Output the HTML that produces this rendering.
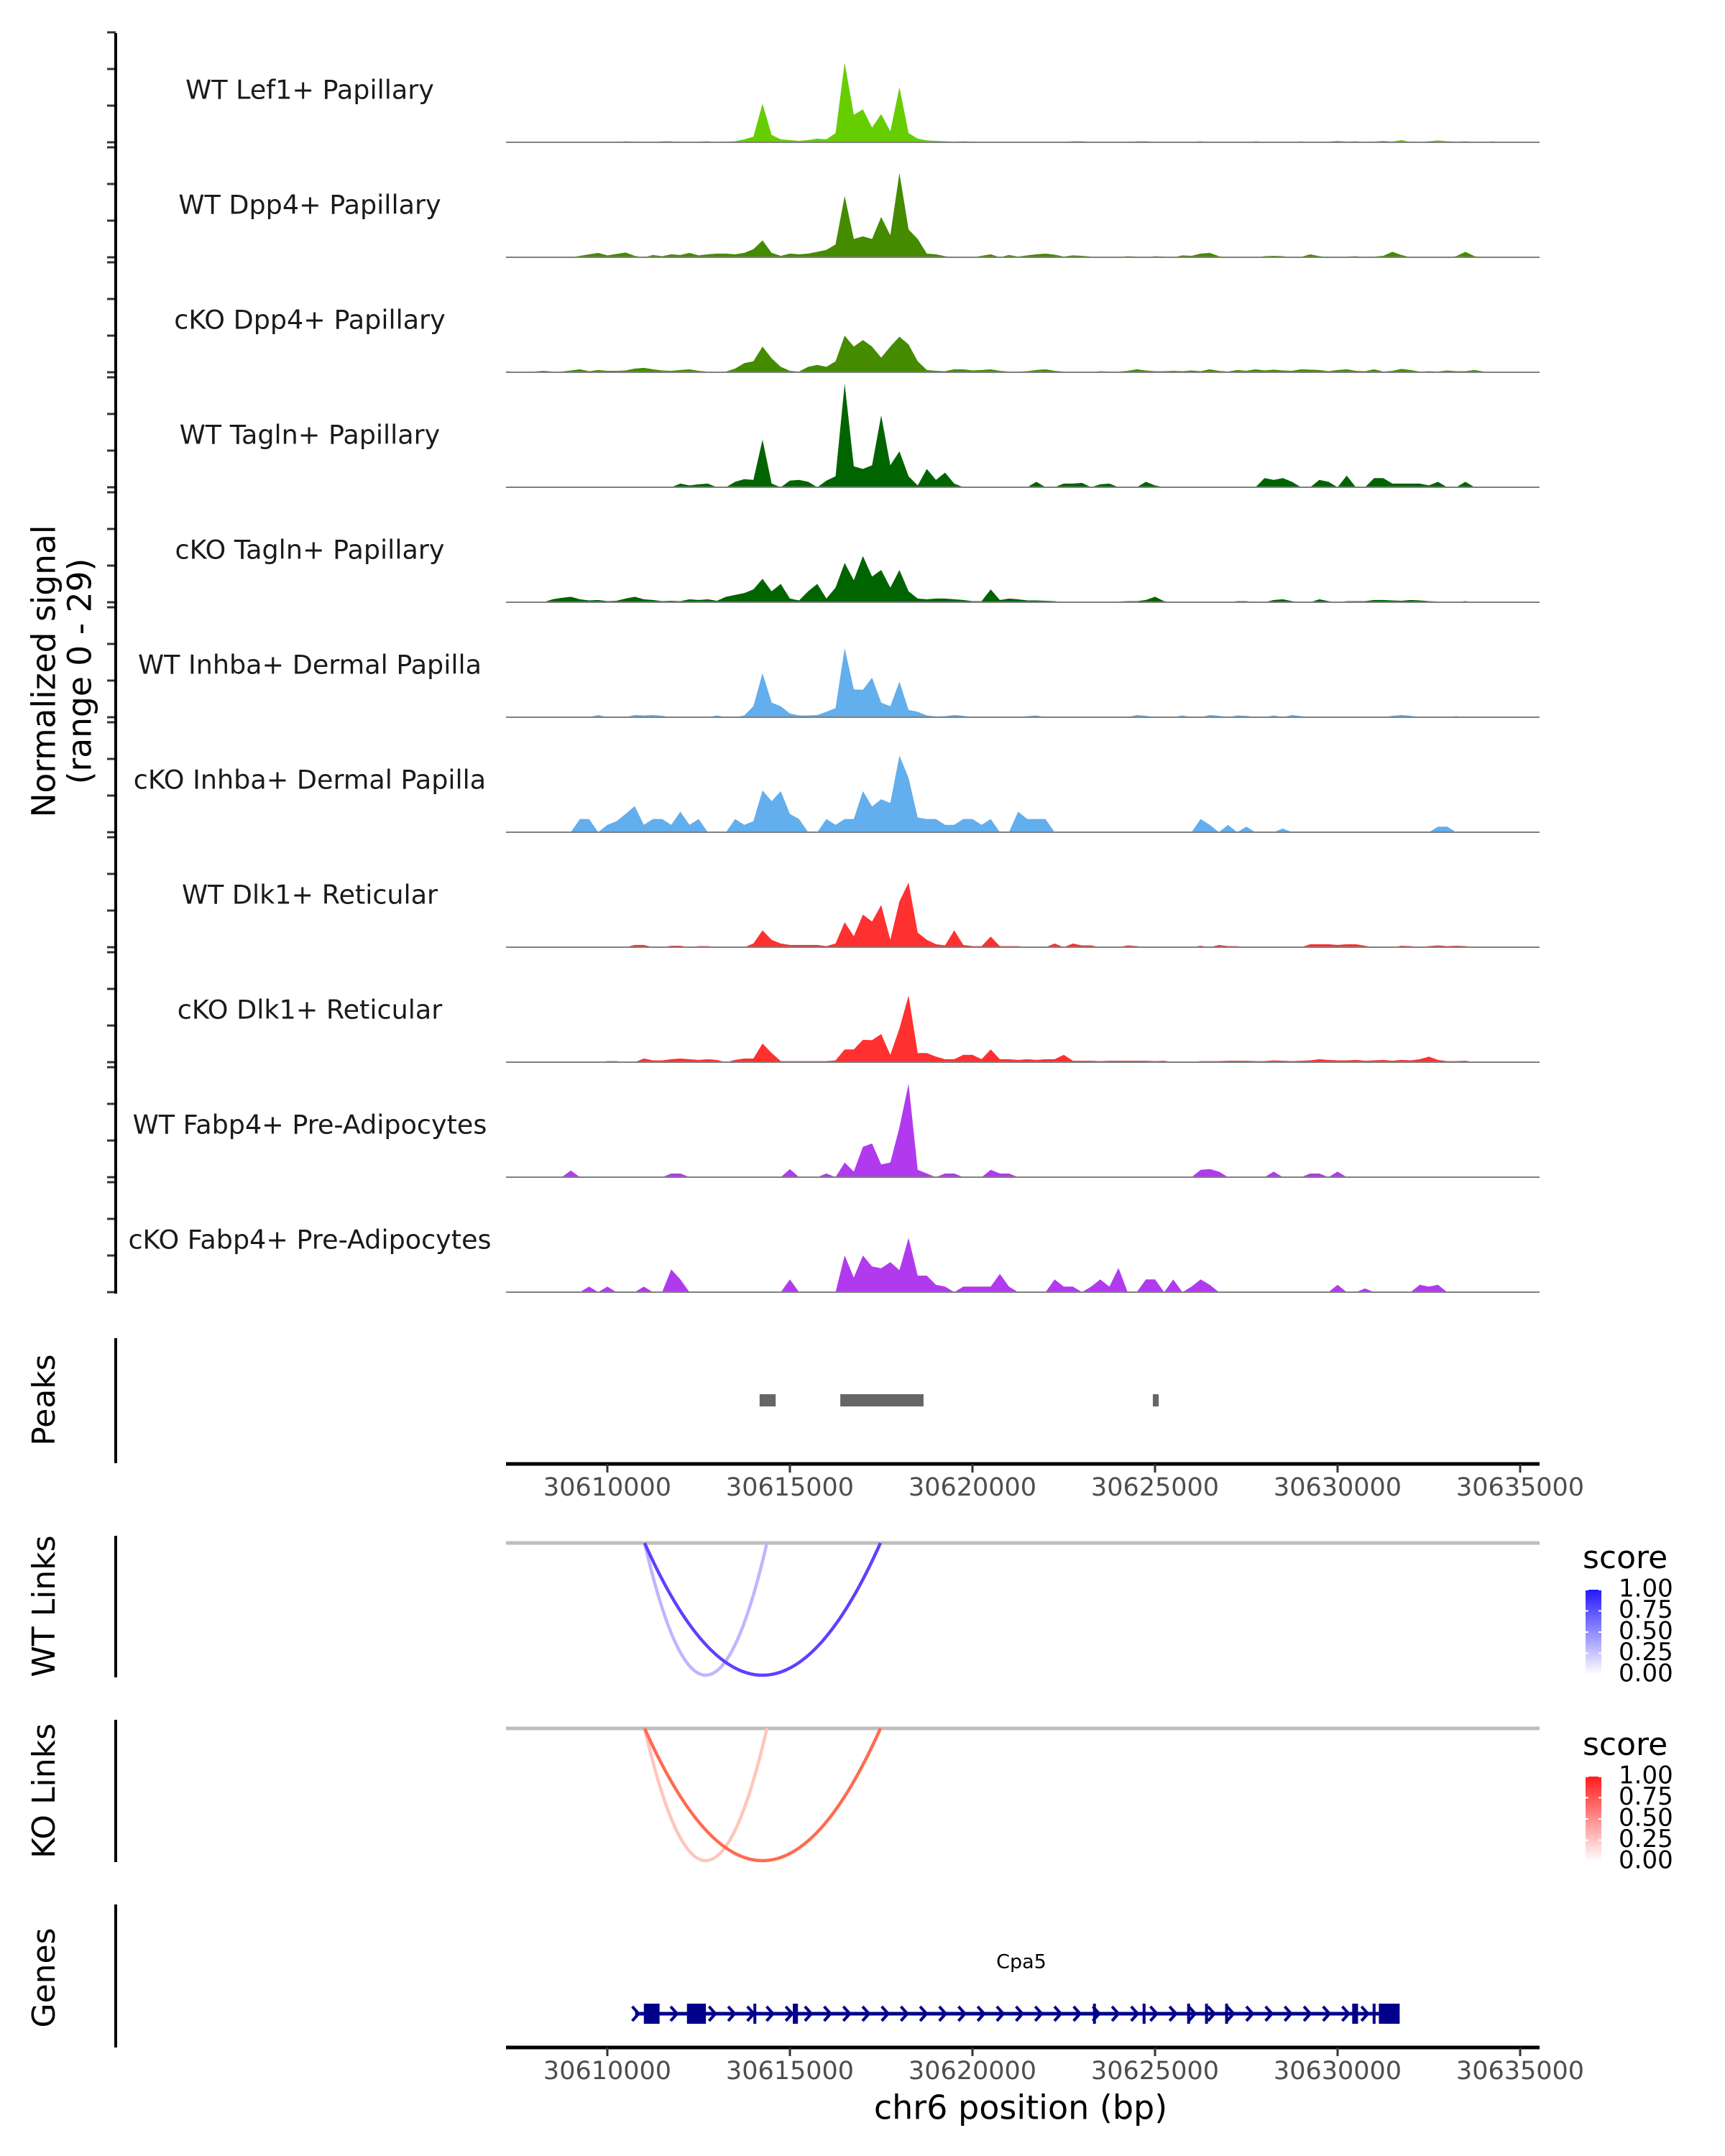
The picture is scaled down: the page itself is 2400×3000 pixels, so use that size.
<!DOCTYPE html>
<html><head><meta charset="utf-8"><style>
html,body{margin:0;padding:0;background:#fff;}
svg{display:block;font-family:"DejaVu Sans","Liberation Sans",sans-serif;}
</style></head><body>
<svg id="chart" width="2400" height="3000" viewBox="0 0 2400 3000" xmlns="http://www.w3.org/2000/svg">
<defs>
<linearGradient id="gradWT" x1="0" y1="1" x2="0" y2="0"><stop offset="0" stop-color="#ffffff"/><stop offset="1" stop-color="#2418ff"/></linearGradient>
<linearGradient id="gradKO" x1="0" y1="1" x2="0" y2="0"><stop offset="0" stop-color="#ffffff"/><stop offset="1" stop-color="#ff1c1c"/></linearGradient>
</defs>
<g id="tracks"></g>
<g id="left"></g>
<g id="lower"></g>
</svg>
<script>
// ---- data ----
const binStart = 30607250;
const binSize = 250;
const trackNames = ["WT Lef1+ Papillary","WT Dpp4+ Papillary","cKO Dpp4+ Papillary","WT Tagln+ Papillary","cKO Tagln+ Papillary","WT Inhba+ Dermal Papilla","cKO Inhba+ Dermal Papilla","WT Dlk1+ Reticular","cKO Dlk1+ Reticular","WT Fabp4+ Pre-Adipocytes","cKO Fabp4+ Pre-Adipocytes"];
const trackColors = ["#66cd00","#458b00","#458b00","#006400","#006400","#63aeec","#63aeec","#ff3030","#ff3030","#b23aee","#b23aee"];
const sigLef1WT = [0,0,0,0.2,0,0,0.2,0,0,0, 0.2,0,0,0.3,0.2,0,0,0.3,0.3,0, 0,0.2,0.3,0,0.2,0.3,0.8,1.5,10.5,2, 0.8,0.6,0.4,0.6,1,0.8,2.5,21.7,7.5,9, 4,7.7,3,15,2.5,1,0.5,0.4,0.3,0.2, 0.3,0.2,0.2,0.2,0.1,0.2,0.1,0.1,0.1,0.1, 0,0.1,0.3,0.3,0.1,0.1,0.1,0,0,0.3, 0.3,0.1,0,0,0,0.1,0.3,0,0,0, 0,0,0.3,0.1,0,0.1,0,0.3,0,0, 0.2,0.4,0.2,0.3,0.1,0.2,0.4,0.2,0.6,0.1, 0.1,0.3,0.5,0.3,0.2,0.3,0.1,0,0.3,0, 0,0,0,0];
const sigDpp4WT = [0,0,0,0,0,0,0,0,0.4,0.8, 1.2,0.5,0.9,1.3,0.4,0,0.6,0.3,0.8,0.6, 1.2,0.5,0.8,1,1,0.8,1.2,2.2,4.6,1.2, 0.4,1,0.8,1,1.5,2,3.5,16.7,5,5.7, 5,11,6,23,7.6,5,1,0.8,0.3,0, 0.2,0,0.4,0.8,0,0.6,0.2,0.5,0.8,1, 0.7,0.2,0.5,0.4,0.2,0,0,0.1,0.3,0.2, 0,0.3,0.2,0,0.5,0.4,1,1.2,0.3,0, 0,0,0,0.3,0.4,0.3,0,0.1,0.8,0.3, 0.1,0,0.2,0.3,0,0.2,0.4,1.5,0.6,0, 0,0,0,0,0.3,1.5,0.3,0,0,0, 0,0,0,0];
const sigDpp4KO = [0.3,0,0.2,0.2,0.4,0.2,0.2,0.5,0.8,0.3, 0.6,0.4,0.4,0.5,1,1.2,0.8,0.5,0.4,0.6, 0.8,0.4,0.2,0.2,0.2,1,2.5,3,7,3.8, 1.5,0.4,0.2,1.5,2,1.5,3,10,7,8.8, 7,4,7,9.7,7.6,3,0.6,0.4,0.3,0.8, 0.8,0.5,0.6,0.8,0.4,0.2,0.2,0.3,0.6,0.8, 0.4,0.2,0.2,0,0,0.3,0.2,0.2,0.4,0.8, 0.5,0.3,0.3,0.4,0.3,0.5,0.3,0.8,0.4,0.2, 0.6,0.4,0.8,0.5,0.7,0.5,0.4,0.8,0.7,0.6, 0.3,0.6,0.8,0.4,0.3,0.8,0.2,0.4,0.9,0.6, 0.2,0.3,0.2,0.5,0.3,0.3,0.6,0.2,0,0, 0,0,0,0];
const sigTaglnWT = [0,0,0,0,0,0,0,0,0,0, 0,0,0,0,0,0,0,0,0,1, 0.5,0.8,1,0,0,1.5,2.2,2,13,1, 0,1.8,2,1.5,0,1.8,3,28.3,5.7,5, 6,19.6,6,9.8,3,0.5,5,2,4,1, 0,0,0,0,0,0,0,0,1.5,0, 0,1,1,1.2,0,0.8,1,0,0,0, 1.5,0.5,0,0,0,0,0,0,0,0, 0,0,0,2.5,2,2.5,1.5,0,0,2, 1.5,0,3.2,0,0,2.5,2.5,1,1,1, 1,0.5,1.5,0,0,1.5,0,0,0,0, 0,0,0,0];
const sigTaglnKO = [0,0,0,0,0,0.8,1.2,1.5,0.8,0.5, 0.6,0.3,0.4,1,1.5,0.8,0.6,0.3,0.4,0.3, 0.8,0.6,0.8,0.4,1.5,2,2.5,3.5,6.4,3, 5,1,0.5,3,5,1,4,10.7,6,12.6, 7,8.8,4,8.8,3,1,0.8,1,1,0.8, 0.6,0.3,0.3,3.5,0.6,1,0.8,0.5,0.5,0.4, 0.3,0,0,0,0,0,0,0.2,0.3,0.3, 0.6,1.5,0.3,0,0,0,0,0,0,0, 0.3,0.3,0,0,0.6,0.8,0.3,0,0,0.8, 0.3,0,0.3,0.3,0.3,0.6,0.6,0.5,0.4,0.6, 0.5,0.3,0.2,0,0,0.3,0,0,0,0, 0,0,0,0];
const sigInhbaWT = [0,0,0,0,0,0,0,0,0,0, 0.6,0,0,0,0.6,0.5,0.6,0.4,0,0, 0,0,0,0.5,0,0,0.5,3,12,4, 3,1,0.5,0.5,0.6,1.5,2.5,18.9,7.6,7.5, 10.8,4,3,9.7,2,1.5,0.5,0.2,0.3,0.6, 0.4,0,0,0,0,0,0,0.3,0.5,0, 0,0,0,0,0,0,0,0,0,0.6, 0.4,0,0,0,0.5,0,0,0.6,0.4,0, 0.5,0.4,0,0,0.5,0,0.6,0.3,0,0, 0,0,0,0,0,0,0,0.4,0.6,0.4, 0,0,0,0,0.3,0,0,0,0,0, 0,0,0,0];
const sigInhbaKO = [0,0,0,0,0,0,0,0,3.6,3.6, 0,2,3,5,7.1,2,3.6,3.6,2,5.6, 2,3.6,0,0,0,3.6,2,3,11.4,8.5, 11.2,5,3.6,0,0,3.6,2,3.6,3.6,11.2, 7,9,8,20.9,14.8,4,3.6,3.6,2,2, 3.6,3.6,2,3.6,0,0,5.6,3.6,3.6,3.6, 0,0,0,0,0,0,0,0,0,0, 0,0,0,0,0,0,3.6,2,0,2, 0,1.5,0,0,0,1,0,0,0,0, 0,0,0,0,0,0,0,0,0,0, 0,0,1.5,1.5,0,0,0,0,0,0, 0,0,0,0];
const sigDlk1WT = [0,0,0,0,0,0,0,0,0,0, 0,0,0,0,0.6,0.6,0,0,0.4,0.4, 0,0.3,0.3,0,0,0,0,1,4.6,2, 1,0.6,0.6,0.6,0.6,0.3,1,6.8,3,8.9, 7,11.5,2,12.5,17.6,4,2,0.8,0.5,4.6, 0.6,0.3,0.3,2.9,0.3,0.3,0.3,0,0,0, 1,0,1,0.5,0.5,0,0,0,0.5,0.3, 0,0,0,0,0,0,0.4,0,0.6,0.3, 0.3,0,0,0,0,0,0,0,0.8,0.8, 0.8,0.6,0.8,0.8,0.4,0,0,0,0.4,0.3, 0,0.3,0.5,0.3,0.4,0.3,0,0,0,0, 0,0,0,0];
const sigDlk1KO = [0,0,0,0,0,0,0,0,0,0, 0,0.3,0.3,0,0,1,0.5,0.5,0.8,1, 0.8,0.6,0.8,0.6,0,0.6,1,1,5.1,2.5, 0.3,0.3,0.3,0.3,0.3,0.3,0.5,3.5,3.5,6.1, 6,7.7,2,9.2,18.2,2.5,2.5,1.5,0.8,0.8, 2,2,0.8,3.5,0.8,0.8,0.6,0.8,0.6,0.8, 0.8,2,0.4,0.4,0.4,0.3,0.4,0.4,0.4,0.4, 0.4,0.3,0.4,0,0,0,0.3,0.3,0.3,0.4, 0.4,0.4,0.3,0.3,0.5,0.4,0.3,0.4,0.5,0.8, 0.6,0.5,0.5,0.6,0.4,0.5,0.6,0.4,0.6,0.5, 0.8,1.5,0.6,0.3,0.3,0.4,0,0,0,0, 0,0,0,0];
const sigFabp4WT = [0,0,0,0,0,0,0,1.8,0,0, 0,0,0,0,0,0,0,0,1,1, 0,0,0,0,0,0,0,0,0,0, 0,2.2,0,0,0,1,0,4,1.5,8.3, 9.2,3.5,4,13.6,25.5,2,1,0,1,1, 0,0,0,2,1,1,0,0,0,0, 0,0,0,0,0,0,0,0,0,0, 0,0,0,0,0,0,2,2.2,1.5,0, 0,0,0,0,1.5,0,0,0,1,1, 0,1.5,0,0,0,0,0,0,0,0, 0,0,0,0,0,0,0,0,0,0, 0,0,0,0];
const sigFabp4KO = [0,0,0,0,0,0,0,0,0,1.5, 0,1.5,0,0,0,1.5,0,0,6.2,3.5, 0,0,0,0,0,0,0,0,0,0, 0,3.5,0,0,0,0,0,10,4,10, 7,6.5,8.2,6,14.8,4.5,4.5,2,1.5,0, 1.5,1.5,1.5,1.5,5,1.5,0,0,0,0, 3.5,1.5,1.5,0,1.5,3.5,1.5,6.6,0,0, 3.5,3.5,0,3.5,0,1.5,3.5,2,0,0, 0,0,0,0,0,0,0,0,0,0, 0,2,0,0,1,0,0,0,0,0, 2,1.5,2,0,0,0,0,0,0,0, 0,0,0,0];
const yTicks = [0,10,20,30];
const peakStarts = [30614170,30616380,30624940];
const peakEnds = [30614610,30618660,30625100];
const xTickValues = [30610000,30615000,30620000,30625000,30630000,30635000];
const linkStarts = [30611020,30611020];
const linkEnds = [30614370,30617480];
const linkScores = [0.35,0.9];
const legendTicks = ["1.00","0.75","0.50","0.25","0.00"];
const geneStart = 30610760;
const geneEnd = 30631600;
const exonStarts = [30611000,30612180,30614000,30615080,30623300,30624660,30625880,30626370,30626920,30630400,30630960,30631130];
const exonEnds = [30611430,30612700,30614080,30615220,30623380,30624740,30625960,30626450,30627000,30630560,30631040,30631700];

// ---- scales ----
const signals = [sigLef1WT,sigDpp4WT,sigDpp4KO,sigTaglnWT,sigTaglnKO,sigInhbaWT,sigInhbaKO,sigDlk1WT,sigDlk1KO,sigFabp4WT,sigFabp4KO];
const X0 = 704, X1 = 2142;
function xScale(bp){ return 845 + (bp - 30610000) * 0.0508; }
function baseY(i){ return 198 + i * 160; }
function yScale(i, v){ return baseY(i) - v * 5.1; }
const NS = "http://www.w3.org/2000/svg";
function mk(tag, attrs, parent){ const e = document.createElementNS(NS, tag); for (const k in attrs) e.setAttribute(k, attrs[k]); parent.appendChild(e); return e; }
const gT = document.getElementById('tracks');
const gL = document.getElementById('left');
const gB = document.getElementById('lower');

// tracks
signals.forEach((arr, i) => {
  const g = mk('g', {}, gT);
  
  
  let d = 'M' + xScale(binStart).toFixed(1) + ' ' + baseY(i);
  arr.forEach((v, j) => { d += ' L' + xScale(binStart + j*binSize).toFixed(1) + ' ' + yScale(i, v).toFixed(1); });
  d += ' L' + xScale(binStart + (arr.length-1)*binSize).toFixed(1) + ' ' + baseY(i) + ' Z';
  const p = mk('path', {d: d, fill: trackColors[i], stroke: 'none'}, g);
  
  
  const bl = mk('line', {x1: X0, x2: X1, y1: baseY(i), y2: baseY(i), stroke: '#808080', 'stroke-width': 2}, g);
  
  
  const t = mk('text', {x: 431, y: baseY(i) - 71, 'text-anchor': 'middle', 'dominant-baseline': 'middle', 'font-size': 36.5, fill: '#1a1a1a'}, g);
  t.textContent = trackNames[i];
  
  
  yTicks.forEach(tv => {
    const tk = mk('line', {x1: 149, x2: 161, y1: yScale(i, tv), y2: yScale(i, tv), stroke: '#333', 'stroke-width': 3}, gL);
    
    
  });
});
function vline(y1, y2, name){ const l = mk('line', {x1: 161, x2: 161, y1: y1, y2: y2, stroke: '#000', 'stroke-width': 4}, gL);   }
vline(46, 1800, 'y-axis-line');
vline(1862, 2036, 'peaks-axis-line');
vline(2137, 2334, 'wt-links-axis-line');
vline(2393, 2591, 'ko-links-axis-line');
vline(2650, 2849, 'genes-axis-line');
function rotLabel(txt, x, y, size, name){ const t = mk('text', {x: x, y: y, transform: 'rotate(-90 '+x+' '+y+')', 'text-anchor': 'middle', 'dominant-baseline': 'middle', 'font-size': size, fill: '#000'}, gL); t.textContent = txt;   }
rotLabel('Normalized signal', 64, 934, 45.5, 'y-axis-title');
rotLabel('(range 0 - 29)', 114, 934, 45.5, 'y-axis-subtitle');
rotLabel('Peaks', 64, 1948, 44, 'peaks-label');
rotLabel('WT Links', 64, 2235, 44, 'wt-links-label');
rotLabel('KO Links', 64, 2492, 44, 'ko-links-label');
rotLabel('Genes', 64, 2752, 44, 'genes-label');

// peaks
peakStarts.forEach((s, k) => {
  const r = mk('rect', {x: xScale(s), y: 1940, width: Math.max(xScale(peakEnds[k]) - xScale(s), 8), height: 17, fill: '#666666'}, gB);
  
  
});
// x axes
function xAxis(y, name){
  const g = mk('g', {}, gB);
  
  
  mk('line', {x1: X0, x2: X1, y1: y, y2: y, stroke: '#000', 'stroke-width': 5}, g);
  xTickValues.forEach(v => {
    mk('line', {x1: xScale(v), x2: xScale(v), y1: y, y2: y + 12, stroke: '#333', 'stroke-width': 3}, g);
    const t = mk('text', {x: xScale(v), y: y + 34, 'text-anchor': 'middle', 'dominant-baseline': 'middle', 'font-size': 35, fill: '#4d4d4d'}, g);
    t.textContent = v;
    
    
  });
}
xAxis(2037, 'x-axis-top');
xAxis(2849, 'x-axis-bottom');
const xt = mk('text', {x: 1420, y: 2936, 'text-anchor': 'middle', 'dominant-baseline': 'middle', 'font-size': 46, fill: '#000'}, gB);
xt.textContent = 'chr6 position (bp)';



// links
function mixColor(rgb, s){ const c = rgb.map(v => Math.round(255 + (v - 255) * s)); return 'rgb(' + c.join(',') + ')'; }
function linkPanel(top, depth, rgb, name){
  const g = mk('g', {}, gB);
  
  
  mk('line', {x1: X0, x2: X1, y1: top, y2: top, stroke: '#bebebe', 'stroke-width': 5}, g);
  linkStarts.forEach((s, k) => {
    const a = xScale(s), b = xScale(linkEnds[k]);
    const d = 'M' + a + ' ' + top + ' Q' + ((a+b)/2) + ' ' + (top + 2*depth) + ' ' + b + ' ' + top;
    const p = mk('path', {d: d, fill: 'none', stroke: mixColor(rgb, linkScores[k]), 'stroke-width': 4.5}, g);
    
    
  });
}
linkPanel(2147, 184, [80,40,255], 'wt-links-panel');
linkPanel(2405, 184, [255,90,60], 'ko-links-panel');
function legend(y0, grad, name){
  const g = mk('g', {}, gB);
  
  
  const t = mk('text', {x: 2202, y: y0, 'dominant-baseline': 'middle', 'font-size': 44, fill: '#000'}, g);
  t.textContent = 'score';
  const by = y0 + 42;
  mk('rect', {x: 2206, y: by, width: 22, height: 118, fill: 'url(#' + grad + ')'}, g);
  legendTicks.forEach((lt, k) => {
    const yy = by + k * 29.5;
    mk('line', {x1: 2206, x2: 2210, y1: yy, y2: yy, stroke: '#fff', 'stroke-width': 2}, g);
    mk('line', {x1: 2224, x2: 2228, y1: yy, y2: yy, stroke: '#fff', 'stroke-width': 2}, g);
    const l = mk('text', {x: 2252, y: yy, 'dominant-baseline': 'middle', 'font-size': 34, fill: '#000'}, g);
    l.textContent = lt;
    
    
  });
}
legend(2170, 'gradWT', 'wt-score-legend');
legend(2430, 'gradKO', 'ko-score-legend');

// gene
const gg = mk('g', {}, gB);


const gy = 2802;
mk('line', {x1: xScale(geneStart), x2: xScale(geneEnd), y1: gy, y2: gy, stroke: '#00008b', 'stroke-width': 5}, gg);
for (let x = xScale(geneStart); x < xScale(geneEnd) - 6; x += 26.7) {
  mk('path', {d: 'M' + (x-4) + ' ' + (gy-10) + ' L' + (x+5) + ' ' + gy + ' L' + (x-4) + ' ' + (gy+10), fill: 'none', stroke: '#00008b', 'stroke-width': 4}, gg);
}
exonStarts.forEach((s, k) => {
  const r = mk('rect', {x: xScale(s), y: gy - 14, width: Math.max(xScale(exonEnds[k]) - xScale(s), 4), height: 28, fill: '#00008b'}, gg);
  
  
});
const gl = mk('text', {x: 1421, y: 2731, 'text-anchor': 'middle', 'dominant-baseline': 'middle', 'font-size': 27, fill: '#000'}, gg);
gl.textContent = 'Cpa5';


</script>
</body></html>
